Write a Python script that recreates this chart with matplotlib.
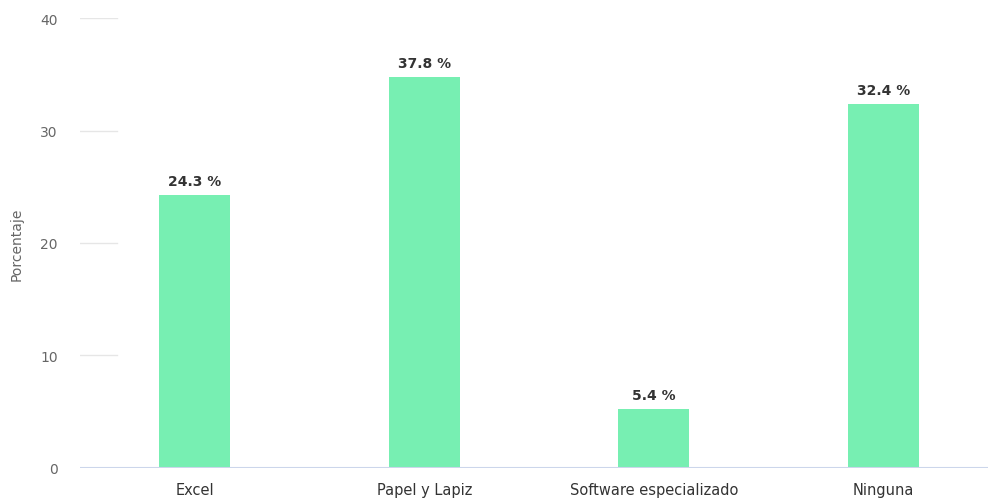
import matplotlib.pyplot as plt

plt.rcParams["font.family"] = ["DejaVu Sans"]

# data
categories = ["Excel", "Papel y Lapiz", "Software especializado", "Ninguna"]
bar_heights = [24.3, 34.8, 5.2, 32.4]
bar_labels = ["24.3 %", "37.8 %", "5.4 %", "32.4 %"]
y_ticks = [0, 10, 20, 30, 40]

fig = plt.figure(figsize=(9.88, 5.02), dpi=100)
ax = fig.add_axes([0.081, 0.066, 0.919, 0.896])

x = range(len(categories))
ax.bar(x, bar_heights, width=0.31, color="#77efb2", zorder=2)

for xi, h, lab in zip(x, bar_heights, bar_labels):
    ax.annotate(lab, (xi, h), xytext=(0, 5), textcoords="offset points",
                ha="center", va="bottom", fontsize=10, fontweight="bold",
                color="#333333")

ax.set_xlim(-0.5, 3.456)
ax.set_ylim(0, 40)
ax.set_yticks(y_ticks)
ax.set_xticks(list(x))
ax.set_xticklabels(categories)

# short grid stubs at the left edge only
for t in y_ticks[1:]:
    ax.axhline(t, xmin=0, xmax=0.041, color="#e6e6e6", lw=1, zorder=1)
ax.axhline(0, color="#ccd6eb", lw=1.5, zorder=3)

for s in ax.spines.values():
    s.set_visible(False)
ax.tick_params(axis="y", length=0, pad=16, labelsize=10, labelcolor="#666666")
ax.tick_params(axis="x", length=0, pad=10, labelsize=10.5, labelcolor="#333333")
ax.set_ylabel("Porcentaje", fontsize=10, color="#666666", labelpad=12)

fig.savefig("out.png", dpi=100)
